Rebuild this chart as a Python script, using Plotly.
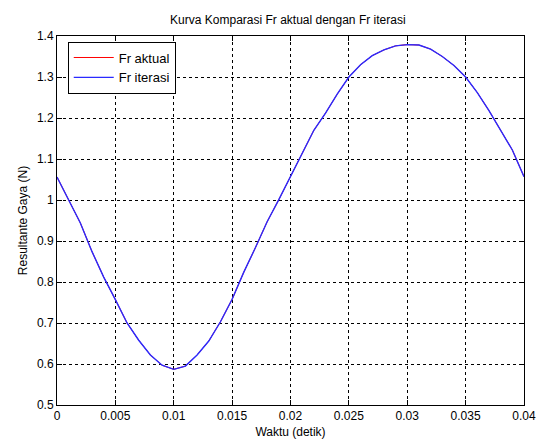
import plotly.graph_objects as go

t = [0.000, 0.001, 0.002, 0.003, 0.004, 0.005, 0.006, 0.007, 0.008, 0.009,
     0.010, 0.011, 0.012, 0.013, 0.014, 0.015, 0.016, 0.017, 0.018, 0.019,
     0.020, 0.021, 0.022, 0.023, 0.024, 0.025, 0.026, 0.027, 0.028, 0.029,
     0.030, 0.031, 0.032, 0.033, 0.034, 0.035, 0.036, 0.037, 0.038, 0.039,
     0.040]
fr_iterasi = [1.056, 0.999, 0.944, 0.874, 0.812, 0.757, 0.700, 0.658, 0.622, 0.597,
              0.587, 0.595, 0.622, 0.656, 0.703, 0.758, 0.824, 0.884, 0.947, 1.001,
              1.057, 1.110, 1.170, 1.212, 1.258, 1.300, 1.330, 1.352, 1.366, 1.376,
              1.379, 1.378, 1.368, 1.350, 1.328, 1.300, 1.262, 1.218, 1.170, 1.122,
              1.057]
fr_aktual = list(fr_iterasi)

x_ticks = [0, 0.005, 0.01, 0.015, 0.02, 0.025, 0.03, 0.035, 0.04]
x_labels = ["0", "0.005", "0.01", "0.015", "0.02", "0.025", "0.03", "0.035", "0.04"]
y_ticks = [0.5, 0.6, 0.7, 0.8, 0.9, 1.0, 1.1, 1.2, 1.3, 1.4]
y_labels = ["0.5", "0.6", "0.7", "0.8", "0.9", "1", "1.1", "1.2", "1.3", "1.4"]

FONT = "Liberation Sans, Arial, sans-serif"

fig = go.Figure()
fig.add_trace(go.Scatter(x=t, y=fr_aktual, mode="lines", name="Fr aktual",
                         line=dict(color="#ff0000", width=1)))
fig.add_trace(go.Scatter(x=t, y=fr_iterasi, mode="lines", name="Fr iterasi",
                         line=dict(color="#2a2aff", width=1.4)))

axis_common = dict(
    showline=True, linecolor="black", linewidth=1, mirror="ticks",
    ticks="inside", ticklen=5, tickcolor="black",
    showgrid=True, gridcolor="black", gridwidth=1, griddash="3px,3px",
    zeroline=False, tickfont=dict(family=FONT, size=12, color="black"),
    automargin=False,
)

fig.update_xaxes(range=[0, 0.04], tickvals=x_ticks, ticktext=x_labels,
                 title=dict(text="Waktu (detik)", font=dict(family=FONT, size=12, color="black"), standoff=5),
                 **axis_common)
fig.update_yaxes(range=[0.5, 1.4], tickvals=y_ticks, ticktext=y_labels,
                 title=dict(text="Resultante Gaya (N)", font=dict(family=FONT, size=12, color="black"), standoff=6),
                 **axis_common)

fig.update_layout(
    width=538, height=442,
    margin=dict(l=57, r=14, t=36, b=37),
    paper_bgcolor="white", plot_bgcolor="white",
    title=dict(text="Kurva Komparasi Fr aktual dengan Fr iterasi",
               font=dict(family=FONT, size=12, color="black"),
               x=0.535, xanchor="center", y=0.955, yanchor="middle"),
    showlegend=True,
    legend=dict(x=0.023, y=0.985, xanchor="left", yanchor="top",
                bgcolor="white", bordercolor="black", borderwidth=1,
                font=dict(family=FONT, size=13, color="black"),
                tracegroupgap=0, itemwidth=40),
)

fig.write_html("out.html")
